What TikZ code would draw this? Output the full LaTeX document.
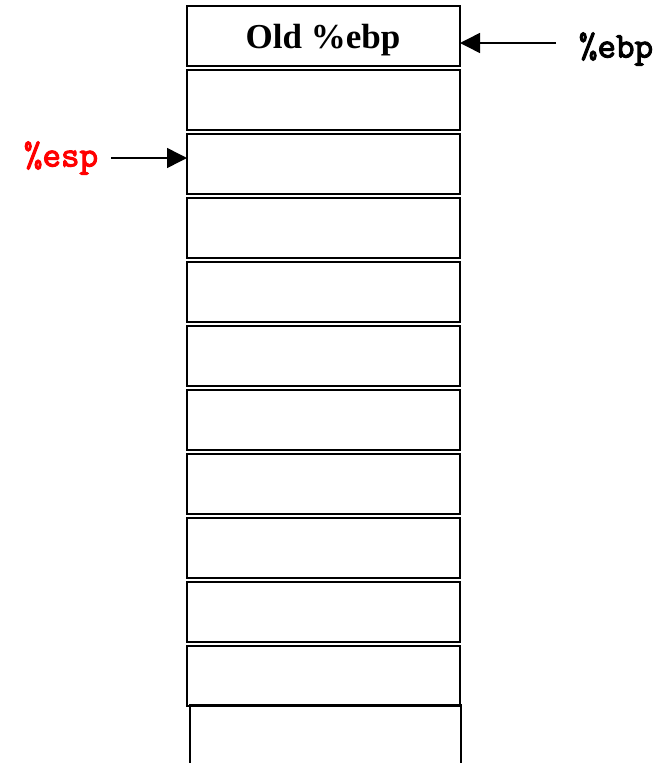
\documentclass[tikz,border=0pt]{standalone}
\usepackage{fontspec}
\setmainfont{Liberation Serif}
\newfontfamily\codefont[FakeBold=3]{Latin Modern Mono}
\usetikzlibrary{arrows.meta}
\definecolor{espred}{RGB}{255,0,0}
\begin{document}
\begin{tikzpicture}[x=1pt,y=-1pt,
  cell/.style={draw=black,line width=2pt,minimum width=273pt,minimum height=60pt,inner sep=0pt,outer sep=0pt},
  ptr/.style={line width=1.5pt,-{Triangle[length=20pt,width=20pt]}},
  reglabel/.style={font=\codefont\fontsize{36}{38}\selectfont,inner sep=0pt,anchor=center}]
\useasboundingbox (0,0) rectangle (660,763);
\node[cell] (b1) at (323.5,36) {};
\node[font=\bfseries\fontsize{35}{38}\selectfont,inner sep=0pt] (oldtxt) at (323,40) {Old \%ebp};
\foreach \i in {2,...,11}{
  \node[cell] (b\i) at (323.5,{36+64*(\i-1)}) {};
}
\coordinate (l1) at (189.5,770);
\coordinate (l2) at (189.5,705);
\coordinate (r2) at (461,705);
\coordinate (r1) at (461,770);
\draw[line width=2pt] (l1) -- (l2) -- (r2) -- (r1);
\node[reglabel] (ebp) at (616,49) {\%ebp};
\node[reglabel,text=espred] (esp) at (61,158) {\%esp};
\coordinate (ebpstart) at (556,43);
\coordinate (espstart) at (111,158);
\draw[ptr] (ebpstart) -- (b1.east |- ebpstart);
\draw[ptr] (espstart) -- (b3.west |- espstart);
\end{tikzpicture}
\end{document}
